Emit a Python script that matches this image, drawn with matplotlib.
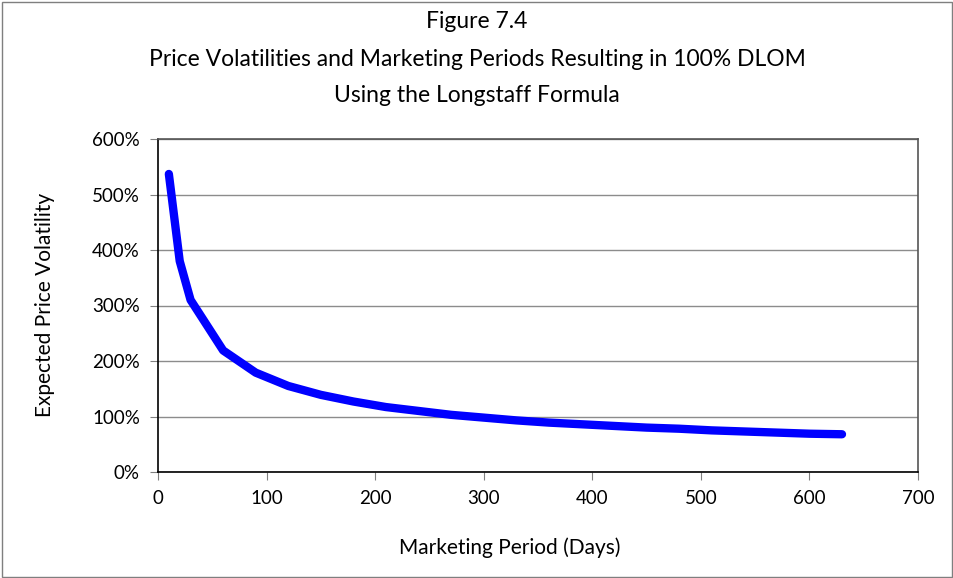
import matplotlib.pyplot as plt
from matplotlib.ticker import FuncFormatter

# marketing period (days) and volatility (%)
days = [10, 20, 30, 60, 90, 120, 150, 180, 210, 240, 270, 300, 330,
        360, 390, 420, 450, 480, 510, 540, 570, 600, 630]
volatility = [537, 380, 310, 219, 179, 155, 139, 127, 117, 110, 103, 98, 93,
              89, 86, 83, 80, 78, 75, 73, 71, 69, 68]

title_lines = ["Figure 7.4",
               "Price Volatilities and Marketing Periods Resulting in 100% DLOM",
               "Using the Longstaff Formula"]

plt.rcParams['font.family'] = ['Lato', 'DejaVu Sans']

fig = plt.figure(figsize=(9.54, 5.78), dpi=100)
ax = fig.add_axes([158 / 954, 1 - 472 / 578, 760 / 954, 333 / 578])

ax.plot(days, volatility, color='#0000ff', linewidth=6,
        solid_capstyle='round', solid_joinstyle='round', zorder=3)

ax.set_xlim(0, 700)
ax.set_ylim(0, 600)
ax.set_xticks(range(0, 701, 100))
ax.set_yticks(range(0, 601, 100))
ax.yaxis.set_major_formatter(FuncFormatter(lambda v, p: f"{v:.0f}%"))
ax.tick_params(axis='both', labelsize=13.5, length=6, direction='out',
               color='#808080', pad=7)
ax.grid(axis='y', color='#8c8c8c', linewidth=1)
ax.set_axisbelow(True)

for s in ['left', 'bottom']:
    ax.spines[s].set_color('black')
    ax.spines[s].set_linewidth(1.2)
for s in ['top', 'right']:
    ax.spines[s].set_color('#555555')
    ax.spines[s].set_linewidth(1.2)

for i, line in enumerate(title_lines):
    fig.text(0.5, 1 - (22 + 37 * i) / 578, line, ha='center', va='center',
             fontsize=16.5)

fig.text(45 / 954, 1 - 305 / 578, "Expected Price Volatility", rotation=90,
         ha='center', va='center', fontsize=15)
fig.text(510 / 954, 1 - 548 / 578, "Marketing Period (Days)",
         ha='center', va='center', fontsize=15)

# outer chart border
fig.patches.append(plt.Rectangle((0.002, 0.002), 0.996, 0.995,
                                 transform=fig.transFigure, fill=False,
                                 edgecolor='#7f7f7f', linewidth=1))

fig.savefig('out.png', dpi=100)
